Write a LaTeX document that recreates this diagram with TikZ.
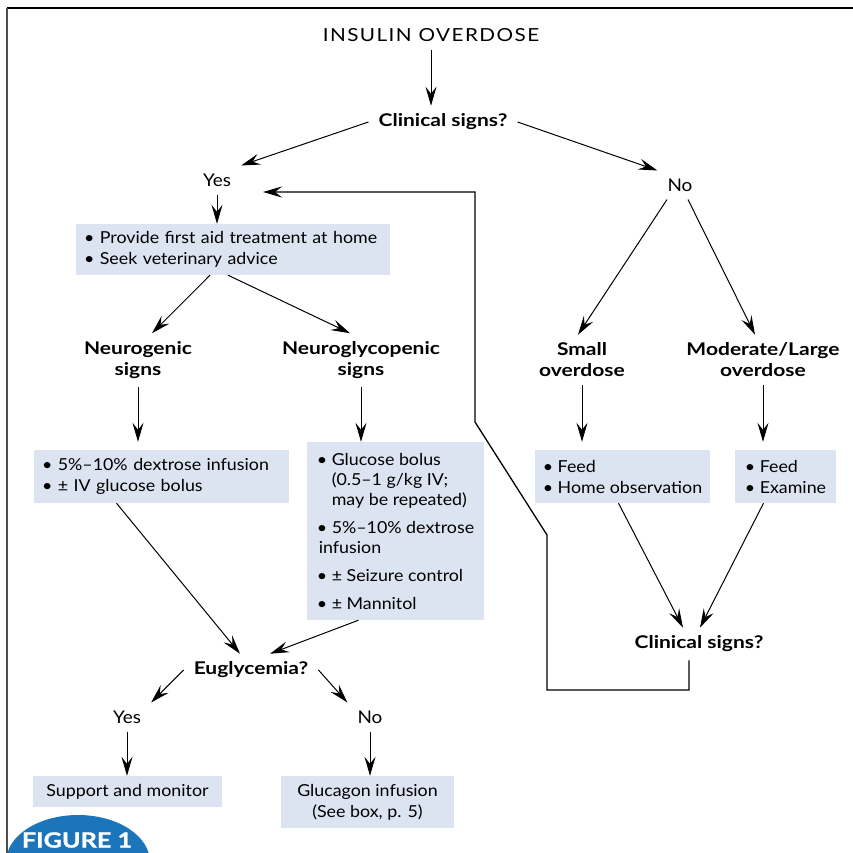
\documentclass[tikz,border=0pt]{standalone}
\usepackage{fontspec}
\setmainfont{Lato}[FakeStretch=1.08,BoldFeatures={FakeStretch=1.2}]
\usetikzlibrary{arrows.meta}
\definecolor{boxfill}{HTML}{DCE3F1}
\definecolor{badge}{HTML}{1B75BB}
\tikzset{
  flow/.style={-{Stealth[length=19pt,width=11pt,inset=7pt]},line width=1pt},
  ans/.style={inner xsep=10pt,inner ysep=8pt,font=\fontsize{17.5}{21}\selectfont,align=center},
  ask/.style={ans,font=\fontsize{17.5}{21}\selectfont\bfseries},
  infobox/.style={fill=boxfill,inner xsep=8pt,inner ysep=0pt,align=left,font=\fontsize{16.5}{21}\selectfont},
}
\begin{document}
\begin{tikzpicture}[x=1pt,y=-1pt]
		\useasboundingbox (0,0) rectangle (853,853);
		% frame and badge
		\draw[line width=2pt] (7,8) -- (853,8);
		\draw[line width=2.4pt,black!70] (7,8) -- (7,853);
		\begin{scope}
			\clip (0,0) rectangle (853,853);
			\fill[badge] (78,862) ellipse [x radius=72,y radius=47];
		\end{scope}
		\node[white,font=\fontsize{21}{24}\selectfont\bfseries\addfontfeature{FakeBold=1.2}] (fig) at (77,840) {FIGURE 1};
		% question nodes
		\node[ans,font=\fontsize{18}{21}\selectfont\addfontfeature{FakeStretch=1.15,LetterSpace=8}] (title) at (431,35) {INSULIN OVERDOSE};
		\node[ask] (clin) at (443,122) {Clinical signs?};
		\node[ans] (yes) at (217,180) {Yes};
		\node[ans] (no) at (680,185) {No};
		\node[infobox,text width=298,minimum height=51] (firstaid) at (233,249.5) {• Provide first aid treatment at home\\• Seek veterinary advice};
		\node[ask] (neurog) at (138,360) {Neurogenic\\signs};
		\node[ask] (neurogly) at (361,360) {Neuroglycopenic\\signs};
		\node[ask] (small) at (582,360) {Small\\overdose};
		\node[ask] (moderate) at (763,360) {Moderate/Large\\overdose};
		% treatment boxes
		\node[infobox,text width=239,minimum height=53] (dextrose) at (161.5,476.5) {• 5\%–10\% dextrose infusion\\• ± IV glucose bolus};
		\node[infobox,minimum width=177,minimum height=178,font=\fontsize{16.5}{20}\selectfont] (glucose) at (395.5,531)
			{• Glucose bolus\\\phantom{• }(0.5–1 g/kg IV;\\\phantom{• }may be repeated)\\[8pt]• 5\%–10\% dextrose\\\hspace*{2pt}infusion\\[8pt]• ± Seizure control\\[8pt]• ± Mannitol};
		\node[infobox,minimum width=175,minimum height=53] (feed) at (622.5,476.5) {• Feed\\• Home observation};
		\node[infobox,minimum width=101,minimum height=53] (examine) at (785.5,476.5) {• Feed\\• Examine};
		\node[ask] (eugly) at (251,670) {Euglycemia?};
		\node[ask] (clin2) at (699,644) {Clinical signs?};
		\node[ans] (yes2) at (127,717) {Yes};
		\node[ans] (no2) at (370,717) {No};
		\node[infobox,align=center,minimum width=189,minimum height=31] (support) at (127.5,791.5) {Support and monitor};
		\node[infobox,align=center,minimum width=173,minimum height=52] (glucagon) at (367.5,802) {Glucagon infusion\\(See box, p. 5)};
		% arrows
		\draw[flow] (title.south) -- (title.south |- clin.north);
		\draw[flow] (clin.west) -- (yes.north east);
		\draw[flow] (clin.east) -- (no.north west);
		\draw[flow] (yes.south) -- (yes.south |- firstaid.north);
		\draw[flow] ([xshift=-23pt]firstaid.south) -- ([xshift=14pt]neurog.north);
		\draw[flow] ([xshift=-5pt]firstaid.south) -- ([xshift=-11pt]neurogly.north);
		\draw[flow] (neurog.south) -- (neurog.south |- glucose.north);
		\draw[flow] (neurogly.south) -- (neurogly.south |- glucose.north);
		\draw[flow] ([xshift=-45pt]dextrose.south) -- ([xshift=-11pt]eugly.north);
		\draw[flow] ([xshift=-37pt]glucose.south) -- ([xshift=19pt]eugly.north);
		\draw[flow] (eugly.west) -- (yes2.north east);
		\draw[flow] (eugly.east) -- (no2.north west);
		\draw[flow] (yes2.south) -- (yes2.south |- support.north);
		\draw[flow] (no2.south) -- (no2.south |- glucagon.north);
		\draw[flow] ([xshift=-13pt]no.south) -- ([xshift=-4pt]small.north);
		\draw[flow] ([xshift=8pt]no.south) -- ([xshift=-8pt]moderate.north);
		\draw[flow] (small.south) -- (small.south |- glucose.north);
		\draw[flow] (moderate.south) -- (moderate.south |- glucose.north);
		\draw[flow] ([xshift=-4pt]feed.south) -- ([xshift=-16pt]clin2.north);
		\draw[flow] ([xshift=-22pt]examine.south) -- ([xshift=1pt]clin2.north);
		% back to the start
		\coordinate (backin) at (263,192);
		\draw[flow,line width=1.3pt] ([xshift=-10pt]clin2.south) |- (547,690) -- (547,535) -- (475,422) -- (475,192) -- (backin);
	\end{tikzpicture}
\end{document}
